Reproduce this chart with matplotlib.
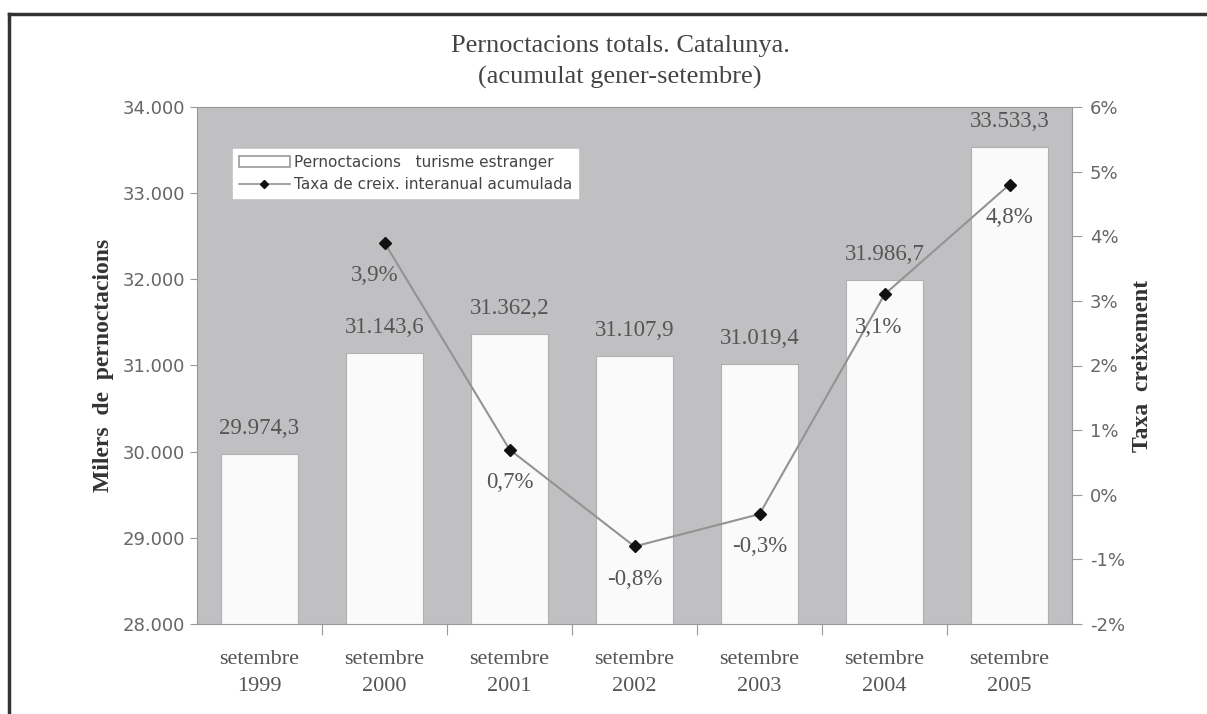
import matplotlib
matplotlib.use("Agg")
import matplotlib.pyplot as plt
from matplotlib.lines import Line2D
from matplotlib.patches import Patch

# data
anys = ["1999", "2000", "2001", "2002", "2003", "2004", "2005"]
pernoctacions = [29974.3, 31143.6, 31362.2, 31107.9, 31019.4, 31986.7, 33533.3]
taxa = [None, 3.9, 0.7, -0.8, -0.3, 3.1, 4.8]
etiq_pern = ["29.974,3", "31.143,6", "31.362,2", "31.107,9", "31.019,4", "31.986,7", "33.533,3"]
etiq_taxa = ["", "3,9%", "0,7%", "-0,8%", "-0,3%", "3,1%", "4,8%"]
yticks_left = [28000, 29000, 30000, 31000, 32000, 33000, 34000]
ylabels_left = ["28.000", "29.000", "30.000", "31.000", "32.000", "33.000", "34.000"]
yticks_right = [-2, -1, 0, 1, 2, 3, 4, 5, 6]

serif = ["Liberation Serif", "DejaVu Serif"]
sans = ["DejaVu Sans"]
txt_col = "#555555"
gris = "#c0c0c3"

fig = plt.figure(figsize=(12.07, 7.14), dpi=100)
fig.patch.set_facecolor("white")

# frame round the chart (left and top edges only visible)
fig.add_artist(Line2D([9 / 1207, 9 / 1207], [0, 1 - 14 / 714], color="#333333", lw=2.5))
fig.add_artist(Line2D([9 / 1207, 1], [1 - 14 / 714, 1 - 14 / 714], color="#333333", lw=2.5))

ax = fig.add_axes([197 / 1207, 1 - 624 / 714, (1072 - 197) / 1207, (624 - 107) / 714])
ax.set_facecolor(gris)
x = list(range(len(anys)))
ax.bar(x, pernoctacions, width=0.62, bottom=0, color="#fafafa", edgecolor="#b0b0b0", lw=0.8, zorder=2)
ax.set_ylim(28000, 34000)
ax.set_xlim(-0.5, len(anys) - 0.5)
ax.set_yticks(yticks_left)
ax.set_yticklabels(ylabels_left, fontsize=13, color="#666666", family=sans)
ax.set_xticks([i + 0.5 for i in range(len(anys) - 1)])
ax.set_xticklabels([])
ax.tick_params(axis="x", length=8, color="#999999", direction="out")
ax.tick_params(axis="y", length=5, color="#999999", direction="out")
for i, a in enumerate(anys):
    ax.text(i, 27700, "setembre\n" + a, ha="center", va="top", fontsize=16,
            family=serif, color=txt_col, linespacing=1.6)
for s in ax.spines.values():
    s.set_color("#999999")
    s.set_linewidth(0.8)

for i, v in enumerate(pernoctacions):
    ax.annotate(etiq_pern[i], (i, v), xytext=(0, 11), textcoords="offset points",
                ha="center", va="bottom", fontsize=16.5, family=serif, color=txt_col)

ax.set_ylabel("Milers  de  pernoctacions", fontsize=17, fontweight="bold",
              family=serif, color="#333333", labelpad=6)

ax2 = ax.twinx()
xs = [i for i, t in enumerate(taxa) if t is not None]
ts = [t for t in taxa if t is not None]
ax2.plot(xs, ts, color="#939393", lw=1.5, marker="D", markersize=6,
         markerfacecolor="#111111", markeredgecolor="#111111", zorder=3)
ax2.set_ylim(-2, 6)
ax2.set_yticks(yticks_right)
ax2.set_yticklabels([f"{t}%" for t in yticks_right], fontsize=13, color="#666666", family=sans)
ax2.tick_params(axis="y", length=7, color="#999999", direction="out", pad=6)
for s in ax2.spines.values():
    s.set_visible(False)
dxs = [0, -7, 0, 0, 0, -4, 0]
for i, t in enumerate(taxa):
    if t is None:
        continue
    ax2.annotate(etiq_taxa[i], (i, t), xytext=(dxs[i], -16), textcoords="offset points",
                 ha="center", va="top", fontsize=16.5, family=serif, color=txt_col)
ax2.set_ylabel("Taxa  creixement", fontsize=17, fontweight="bold", family=serif,
               color="#333333", labelpad=5)

handles = [Patch(facecolor="white", edgecolor="#999999", lw=1.2),
           Line2D([], [], color="#939393", lw=1.2, marker="D", markersize=4,
                  markerfacecolor="#111111", markeredgecolor="#111111")]
leg = ax2.legend(handles, ["Pernoctacions   turisme estranger", "Taxa de creix. interanual acumulada"],
                 loc="upper left", bbox_to_anchor=(36 / 875, 1 - 42 / 517), frameon=True,
                 fancybox=False, framealpha=1, edgecolor="white", facecolor="white",
                 prop={"family": "DejaVu Sans", "size": 11}, handlelength=3.3,
                 handletextpad=0.3, borderpad=0.4, labelspacing=0.45, borderaxespad=0)
for t in leg.get_texts():
    t.set_color("#444444")

fig.text(620 / 1207, 1 - 46 / 714, "Pernoctacions totals. Catalunya.", ha="center", va="center",
         fontsize=19, family=serif, color="#444444")
fig.text(620 / 1207, 1 - 77 / 714, "(acumulat gener-setembre)", ha="center", va="center",
         fontsize=19, family=serif, color="#444444")

fig.savefig("out.png", dpi=100)
